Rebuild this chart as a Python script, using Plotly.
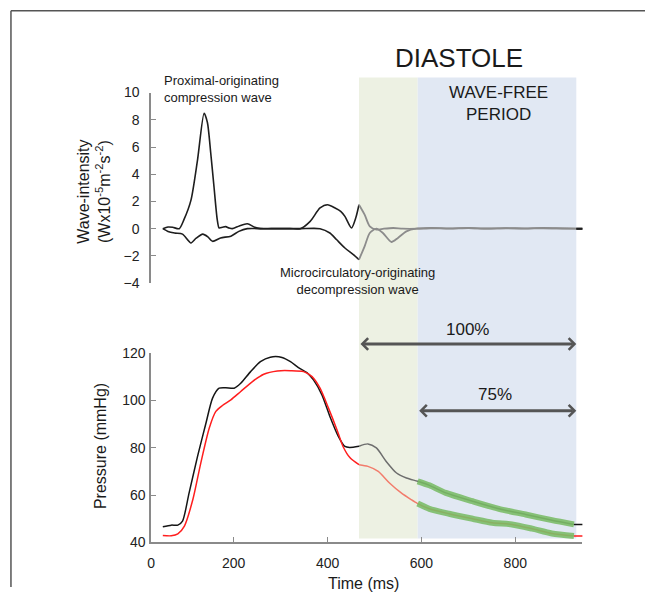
import numpy as np
import plotly.graph_objects as go

# ---------------- data ----------------
# wave intensity (x 10^-5 W m^-2 s^-2)
fwd_t = [49, 60, 70, 84, 94, 109, 123, 137, 144, 151, 158, 165, 169, 176, 183, 190, 197, 212, 229, 245, 257,
         280, 320, 342, 363, 384, 400, 416, 428, 437, 451, 460, 467, 479, 490, 504, 520, 540, 560, 592,
         620, 660, 700, 740, 780, 820, 860, 900, 930, 945]
fwd_v = [0, 0.12, 0.1, 0, 0.66, 2.1, 5.06, 8.48, 7.8, 5.6, 3.1, 0.66, 0.05, 0.1, 0.15, 0.05, 0, 0.2, 0.36, 0.1, 0,
         0, 0, 0, 0.54, 1.52, 1.76, 1.52, 1.27, 0.9, 0.05, 0.78, 1.76, 1.03, 0.17, -0.07, 0.0, 0.05, 0.0, 0,
         0.05, 0.02, 0.05, 0.0, 0.04, 0.02, 0.05, 0.02, 0, 0]

bwd_t = [49, 60, 74, 91, 109, 120, 134, 145, 155, 172, 194, 211, 229, 260, 300, 342, 384, 405, 419, 437, 455,
         467, 479, 490, 504, 518, 536, 550, 568, 589, 620, 660, 700, 740, 780, 820, 860, 900, 930, 945]
bwd_v = [0, -0.2, -0.32, -0.4, -1.05, -0.7, -0.4, -0.6, -0.93, -0.68, -0.55, -0.2, 0, 0, 0, 0, 0, -0.32, -0.8, -1.42, -1.9,
         -2.27, -1.3, -0.32, 0, -0.32, -0.98, -0.68, -0.2, 0, 0.03, 0, 0.04, 0.01, 0.03, 0, 0.03, 0.01, 0, 0]

# pressure (mmHg)
pa_t = [49, 67, 81, 91, 105, 123, 141, 155, 169, 183, 201, 215, 236, 257, 278, 303, 321, 338, 356, 370, 388, 405,
        423, 437, 447, 467, 486, 504, 525, 547, 568, 592, 617, 652, 709, 765, 822, 878, 925, 945]
pa_v = [46.6, 47.3, 47.3, 49, 60.9, 76.3, 90.4, 100.9, 105.1, 105.3, 105.1, 107.2, 112.1, 116.3, 118.2, 118.1, 116.3,
        113.8, 111.7, 108.6, 102.3, 93.2, 84.8, 80.5, 80.1, 80.6, 81.6, 79.9, 74.2, 69.3, 67.2, 65.8, 64.1, 60.9, 57.4,
        54.2, 51.8, 49.4, 47.6, 47.6]

pd_t = [49, 67, 81, 95, 113, 130, 148, 162, 176, 194, 215, 240, 264, 293, 321, 349, 367, 384, 402, 420, 433, 448,
        467, 486, 508, 532, 557, 578, 592, 617, 659, 709, 751, 793, 836, 878, 925, 945]
pd_v = [42.9, 42.8, 43.6, 46.9, 58.1, 73.6, 88.3, 95.3, 97.8, 100.2, 103.7, 107.9, 111, 112.4, 112.5, 112.1, 110,
        105.1, 96.7, 87.6, 80.5, 75.7, 72.8, 72.1, 70, 65.1, 60.9, 58.1, 56.4, 54.2, 52.1, 50, 48.3, 47.6, 45.8, 43.8,
        42.7, 42.7]

diastole_start = 467
wfp_start = 592
wfp_end_wi = 930
wfp_end_p = 925

x_ticks = [24, 200, 400, 600, 800]
x_ticktext = ["0", "200", "400", "600", "800"]

# ---------------- helpers ----------------
W, H = 645, 595
FONT = "Liberation Sans, Arial, sans-serif"
VS, VOFF = 0.9756, 7.2   # vertical compensation for the page capture
HOFF = 2.0


def px(x):
    return (x - HOFF) / W


def py(y):
    return 1 - ((y - VOFF) / VS) / H


def seg(t, v, lo, hi):
    t = np.asarray(t, float)
    v = np.asarray(v, float)
    m = (t >= lo) & (t <= hi)
    return t[m], v[m]


fig = go.Figure()

# ---- wave intensity (top) ----
for t, v in [(fwd_t, fwd_v), (bwd_t, bwd_v)]:
    for lo, hi, col, w in [(0, diastole_start, "#1e1e1e", 1.6),
                           (diastole_start, wfp_end_wi, "#8c8c8c", 1.8),
                           (wfp_end_wi, 2000, "#1e1e1e", 2)]:
        tt, vv = seg(t, v, lo, hi)
        fig.add_trace(go.Scatter(x=tt, y=vv, mode="lines", xaxis="x2", yaxis="y2",
                                 line=dict(color=col, width=w, shape="spline", smoothing=0.7),
                                 hoverinfo="skip", showlegend=False))

# ---- pressure (bottom) ----
for t, v, c_sys, c_dia in [(pa_t, pa_v, "#151515", "#6e6e6e"), (pd_t, pd_v, "#ff1e1e", "#f27c6c")]:
    endt = wfp_end_p
    for lo, hi, col in [(0, diastole_start, c_sys), (diastole_start, endt, c_dia), (endt, 2000, c_sys)]:
        tt, vv = seg(t, v, lo, hi)
        fig.add_trace(go.Scatter(x=tt, y=vv, mode="lines", xaxis="x", yaxis="y",
                                 line=dict(color=col, width=1.5, shape="spline", smoothing=0.7),
                                 hoverinfo="skip", showlegend=False))
    tt, vv = seg(t, v, wfp_start, endt)
    fig.add_trace(go.Scatter(x=tt, y=vv, mode="lines", xaxis="x", yaxis="y",
                             line=dict(color="rgba(118,186,96,0.85)", width=6, shape="spline", smoothing=0.7),
                             hoverinfo="skip", showlegend=False))

# ---------------- shapes ----------------
shapes = [
    dict(type="rect", xref="x", yref="paper", x0=diastole_start, x1=wfp_start, y0=py(539), y1=py(77),
         fillcolor="#edf1e3", line=dict(width=0), layer="below"),
    dict(type="rect", xref="x", yref="paper", x0=wfp_start, x1=wfp_end_wi, y0=py(539), y1=py(77),
         fillcolor="#e1e8f3", line=dict(width=0), layer="below"),
    dict(type="line", xref="paper", yref="paper", x0=px(9), x1=1, y0=py(10), y1=py(10),
         line=dict(color="#555555", width=1.5)),
    dict(type="line", xref="paper", yref="paper", x0=px(9), x1=px(9), y0=0, y1=py(10),
         line=dict(color="#555555", width=1.5)),
]

# ---------------- annotations ----------------
ann = []


def txt(text, x, y, size, xanchor="center", angle=0, align="center"):
    ann.append(dict(text=text, x=px(x), y=py(y), xref="paper", yref="paper", showarrow=False,
                    xanchor=xanchor, yanchor="middle", textangle=angle, align=align,
                    font=dict(family=FONT, size=size, color="#1a1a1a")))


txt("DIASTOLE", 460, 57, 26)
txt("WAVE-FREE<br>PERIOD", 500, 103, 17)
txt("Proximal-originating<br>compression wave", 161, 88, 13, xanchor="left", align="left")
txt("Microcirculatory-originating<br>decompression wave", 358, 281, 13)
txt("100%", 468, 330, 17)
txt("75%", 496, 395, 17)
txt("Wave-intensity<br>(Wx10<sup>-5</sup>m<sup>-2</sup>s<sup>-2</sup>)", 93, 191, 16, angle=-90)
txt("Pressure (mmHg)", 99, 446, 16, angle=-90)
txt("Time (ms)", 364, 584, 16)

for x0, x1, yy in [(diastole_start, wfp_end_wi, 344), (wfp_start, wfp_end_wi, 411)]:
    ann.append(dict(text="", x=x1, y=py(yy), xref="x", yref="paper", ax=x0, ay=0, axref="x", ayref="pixel",
                    showarrow=True, arrowside="end+start", arrowhead=4, startarrowhead=4,
                    arrowsize=0.75, startarrowsize=0.75, arrowwidth=3, arrowcolor="#555555",
                    standoff=0, startstandoff=0))

axis_common = dict(showgrid=False, zeroline=False, showline=True, linecolor="#8a8a8a", linewidth=1.5,
                   ticks="inside", tickcolor="#8a8a8a", tickwidth=1.2,
                   tickfont=dict(family=FONT, size=14, color="#222222"))

xdom = [px(150), px(584)]
fig.update_layout(
    width=W, height=H, margin=dict(l=0, r=0, t=0, b=0),
    paper_bgcolor="white", plot_bgcolor="rgba(0,0,0,0)",
    showlegend=False,
    xaxis=dict(domain=xdom, range=[24, 943], anchor="y", tickvals=x_ticks, ticktext=x_ticktext,
               ticklen=6, ticklabelstandoff=7, **axis_common),
    yaxis=dict(domain=[py(543), py(353)], range=[40, 120], anchor="x", tickvals=[40, 60, 80, 100, 120],
               ticklen=5, ticklabelstandoff=1, **axis_common),
    xaxis2=dict(domain=xdom, range=[24, 943], anchor="y2", visible=False),
    yaxis2=dict(domain=[py(283), py(92)], range=[-4, 10], anchor="x2", tickvals=list(range(-4, 11, 2)),
                ticklen=5, ticklabelstandoff=7, **axis_common),
    shapes=shapes, annotations=ann,
)

fig.write_html("out.html", config={"displayModeBar": False},
               post_script="document.body.style.margin='0';document.body.style.overflow='hidden';")
